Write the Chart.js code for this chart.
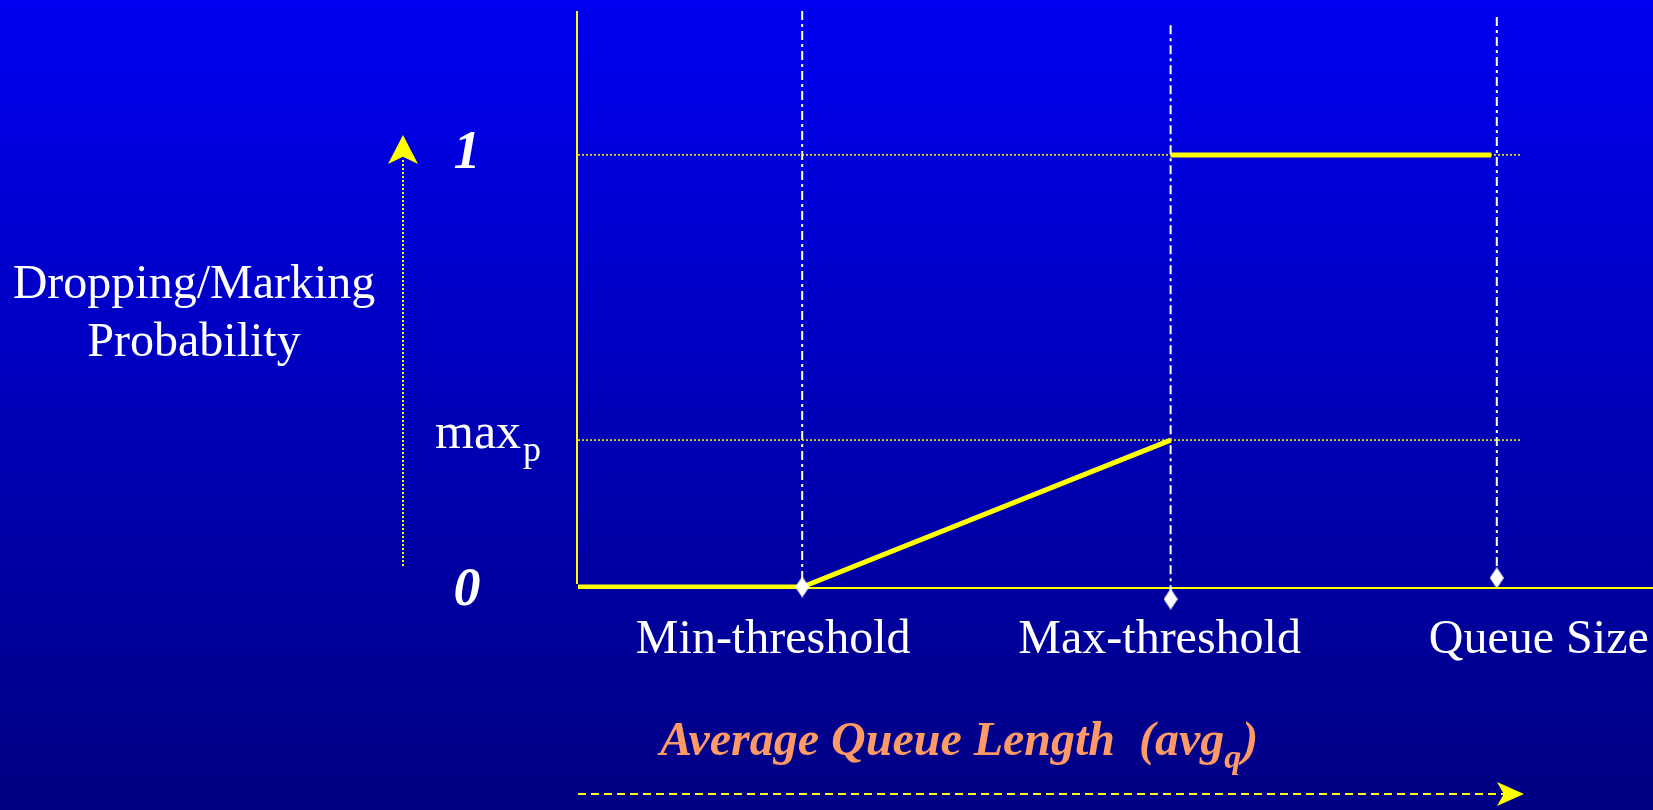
<!DOCTYPE html>
<html>
<head>
<meta charset="utf-8">
<title>RED dropping probability</title>
<script src="https://cdn.jsdelivr.net/npm/chart.js@4.4.1/dist/chart.umd.min.js"></script>
<style>
html, body { margin: 0; padding: 0; background: #0000b0; }
#wrap { width: 1653px; height: 810px; position: relative; }
</style>
</head>
<body>
<div id="wrap"><canvas id="redChart"></canvas></div>
<script>
// data (x = queue length, queue size = 100)
const queueLen = [0, 24.4, 64.5, 64.5, 64.5, 99.4];
const dropProb = [0, 0, 0.34, null, 1, 1];
const thresholdNames = ['Min-threshold', 'Max-threshold', 'Queue Size'];
const thresholdX = [24.4, 64.5, 100];
const tickValues = [1, 0.34, 0];
const tickLabels = ['1', 'max_p', '0'];
const guideEnd = 102.6;
const markerLevels = [0, -0.028, 0.021];
const dropTops = [1.333, 1.30, 1.319];

// white diamond used for the threshold markers
const diamond = document.createElement('canvas');
diamond.width = 14; diamond.height = 21;
(function () {
    const c = diamond.getContext('2d');
    c.fillStyle = '#ffffff';
    c.beginPath();
    c.moveTo(7, 0); c.lineTo(14, 10.5); c.lineTo(7, 21); c.lineTo(0, 10.5);
    c.closePath(); c.fill();
})();

var datasets = [];

// markers on top (radius only widens the in-area test, image sets the size)
datasets.push({
    data: thresholdX.map((x, i) => ({x: x, y: markerLevels[i]})),
    showLine: false,
    pointStyle: diamond,
    pointRadius: 16,
    clip: false
});

// the probability curve
datasets.push({
    data: queueLen.map((x, i) => ({x: x, y: dropProb[i]})),
    borderColor: '#ffff00',
    borderWidth: 5,
    pointRadius: 0,
    spanGaps: false,
    showLine: true,
    borderCapStyle: 'butt'
});

// dotted horizontal guides at 1 and max_p
[1, 0.34].forEach(function (v) {
    datasets.push({
        data: [{x: 0, y: v}, {x: guideEnd, y: v}],
        borderColor: '#ffff00',
        borderWidth: 1.5,
        borderDash: [2, 2],
        pointRadius: 0,
        showLine: true
    });
});

// dash-dot verticals for the thresholds
thresholdX.forEach(function (x, i) {
    datasets.push({
        data: [{x: x, y: dropTops[i]}, {x: x, y: markerLevels[i]}],
        borderColor: '#ffffff',
        borderWidth: 2,
        borderDash: [9, 4, 3, 4],
        pointRadius: 0,
        showLine: true,
        clip: false
    });
});

function drawSub(ctx, text, x, y, font, subFont, drop) {
    var parts = text.split('_');
    ctx.textAlign = 'left';
    ctx.font = font;
    var w1 = ctx.measureText(parts[0]).width;
    ctx.fillText(parts[0], x, y);
    if (parts[1]) {
        ctx.font = subFont;
        ctx.fillText(parts[1], x + w1 + 2, y + drop);
    }
}

function arrowHead(ctx, tipX, tipY, dirX, dirY, len, half) {
    // notched arrow head pointing along (dirX, dirY)
    var px = -dirY, py = dirX;
    var bx = tipX - dirX * len, by = tipY - dirY * len;
    ctx.beginPath();
    ctx.moveTo(tipX, tipY);
    ctx.lineTo(bx + px * half, by + py * half);
    ctx.lineTo(tipX - dirX * len * 0.75, tipY - dirY * len * 0.75);
    ctx.lineTo(bx - px * half, by - py * half);
    ctx.closePath();
    ctx.fill();
}

const redDecor = {
    id: 'redDecor',
    beforeDraw: function (chart) {
        var ctx = chart.ctx;
        var g = ctx.createLinearGradient(0, 0, 0, chart.height);
        g.addColorStop(0, '#0000f2');
        g.addColorStop(1, '#000082');
        ctx.save();
        ctx.fillStyle = g;
        ctx.fillRect(0, 0, chart.width, chart.height);

        // axes
        var a = chart.chartArea;
        ctx.strokeStyle = '#ffff00';
        ctx.lineWidth = 2;
        ctx.beginPath();
        ctx.moveTo(a.left - 1, a.top);
        ctx.lineTo(a.left - 1, a.bottom - 3);
        ctx.moveTo(a.left, a.bottom + 1);
        ctx.lineTo(a.right, a.bottom + 1);
        ctx.stroke();
        ctx.restore();
    },
    afterDraw: function (chart) {
        var ctx = chart.ctx, a = chart.chartArea;
        var xs = chart.scales.x, ys = chart.scales.y;
        ctx.save();
        ctx.fillStyle = '#ffffff';
        ctx.textBaseline = 'alphabetic';

        // y tick labels
        tickValues.forEach(function (v, i) {
            var py = ys.getPixelForValue(v);
            var t = tickLabels[i];
            if (t.indexOf('_') >= 0) {
                drawSub(ctx, t, a.left - 143, py + 8, '50px "Liberation Serif"', '36px "Liberation Serif"', 13);
            } else {
                ctx.font = 'bold italic 54px "Liberation Serif"';
                ctx.textAlign = 'center';
                ctx.fillText(t, a.left - 111, py + (v == 0 ? 18 : 13));
            }
        });

        // x labels under the thresholds
        var shift = [-29, -11, 42];
        ctx.font = '48px "Liberation Serif"';
        ctx.textAlign = 'center';
        thresholdNames.forEach(function (n, i) {
            ctx.fillText(n, xs.getPixelForValue(thresholdX[i]) + shift[i], a.bottom + 66);
        });

        // y axis title
        ctx.fillText('Dropping/Marking', 194, 298);
        ctx.fillText('Probability', 194, 356);

        // left dotted arrow
        ctx.strokeStyle = '#ffff00';
        ctx.fillStyle = '#ffff00';
        ctx.lineWidth = 2;
        ctx.setLineDash([2, 2]);
        ctx.beginPath();
        ctx.moveTo(403, 566);
        ctx.lineTo(403, 158);
        ctx.stroke();
        ctx.setLineDash([]);
        arrowHead(ctx, 403, 135, 0, -1, 29, 15);

        // bottom dashed arrow
        ctx.setLineDash([8, 5]);
        ctx.beginPath();
        ctx.moveTo(a.left, 794);
        ctx.lineTo(1505, 794);
        ctx.stroke();
        ctx.setLineDash([]);
        arrowHead(ctx, 1524, 794, 1, 0, 27, 12);

        // x axis title
        ctx.fillStyle = '#ff9966';
        ctx.textAlign = 'left';
        var f = 'bold italic 48px "Liberation Serif"';
        var sf = 'bold italic 34px "Liberation Serif"';
        var s1 = 'Average Queue Length  (avg';
        ctx.font = f;
        var x0 = 660;
        ctx.fillText(s1, x0, 755);
        var w = ctx.measureText(s1).width;
        ctx.font = sf;
        ctx.fillText('q', x0 + w, 768);
        var wq = ctx.measureText('q').width;
        ctx.font = f;
        ctx.fillText(')', x0 + w + wq + 1, 755);
        ctx.restore();
    }
};

var ctx = document.getElementById('redChart');
var myChart = new Chart(ctx, {
    type: 'scatter',
    data: { datasets: datasets },
    options: {
        responsive: true,
        maintainAspectRatio: false,
        animation: false,
        layout: {
            autoPadding: false,
            padding: { left: 578, top: 11, right: 0, bottom: 223 }
        },
        plugins: { legend: { display: false }, tooltip: { enabled: false } },
        scales: {
            x: { type: 'linear', min: 0, max: 117, display: false },
            y: { type: 'linear', min: 0, max: 1.333, display: false }
        }
    },
    plugins: [redDecor]
});
</script>
</body>
</html>
